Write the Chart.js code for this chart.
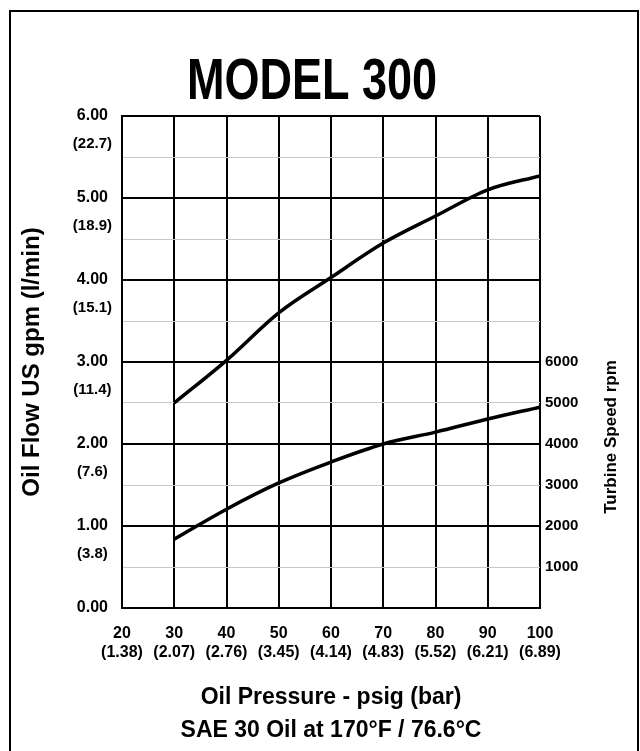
<!DOCTYPE html>
<html lang="en">
<head>
<meta charset="UTF-8">
<title>Model 300</title>
<script src="https://cdn.jsdelivr.net/npm/chart.js"></script>
<style>
  html, body { margin: 0; padding: 0; background: #fff; }
  .wrap { width: 640px; height: 751px; }
</style>
</head>
<body>
<div class="wrap"><canvas id="chart" width="640" height="751"></canvas></div>
<script>
// values
const pressurePsig = [30, 40, 50, 60, 70, 80, 90, 100];
const oilFlowGpm = [2.5, 3.02, 3.6, 4.03, 4.45, 4.78, 5.1, 5.27];
const turbineRpm = [1680, 2410, 3050, 3560, 4000, 4290, 4610, 4900];

// axis labels
const pressureTicks = [20, 30, 40, 50, 60, 70, 80, 90, 100];
const pressureBar = ['1.38', '2.07', '2.76', '3.45', '4.14', '4.83', '5.52', '6.21', '6.89'];
const gpmTicks = [0, 1, 2, 3, 4, 5, 6];
const lpmLabels = ['', '3.8', '7.6', '11.4', '15.1', '18.9', '22.7'];
const rpmTicks = [1000, 2000, 3000, 4000, 5000, 6000];

const LPM_OFFSET = 0.34;
const FONT = "'Liberation Sans', Arial, sans-serif";

Chart.defaults.font.family = FONT;
Chart.defaults.color = '#000';

function isWhole(v) { return Math.abs(v - Math.round(v)) < 1e-6; }
function isHalf(v) { return Math.abs(v - Math.floor(v) - 0.5) < 1e-6; }
function tickVal(ctx) { return ctx && ctx.tick ? ctx.tick.value : 0; }

// outer frame, condensed title, right axis title (reads bottom to top)
const extras = {
  id: 'extras',
  beforeDraw(chart) {
    const ctx = chart.ctx;
    ctx.save();
    ctx.fillStyle = '#fff';
    ctx.fillRect(0, 0, chart.width, chart.height);
    ctx.strokeStyle = '#000';
    ctx.lineWidth = 2;
    ctx.strokeRect(10, 11, 628, 760);
    ctx.restore();
  },
  afterDraw(chart) {
    const ctx = chart.ctx;
    ctx.save();
    ctx.fillStyle = '#000';
    ctx.textAlign = 'center';

    ctx.save();
    ctx.translate(312, 99);
    ctx.scale(0.79, 1);
    ctx.font = 'bold 57px ' + FONT;
    ctx.textBaseline = 'alphabetic';
    ctx.fillText('MODEL 300', 0, 0);
    ctx.restore();

    ctx.translate(611, 437);
    ctx.rotate(-Math.PI / 2);
    ctx.font = 'bold 17px ' + FONT;
    ctx.textBaseline = 'middle';
    ctx.fillText('Turbine Speed rpm', 0, 0);
    ctx.restore();
  }
};

new Chart(document.getElementById('chart'), {
  type: 'line',
  data: {
    datasets: [
      {
        label: 'Oil Flow',
        data: pressurePsig.map((p, i) => ({ x: p, y: oilFlowGpm[i] })),
        yAxisID: 'y',
        borderColor: '#000',
        borderWidth: 3.5,
        pointRadius: 0,
        cubicInterpolationMode: 'monotone'
      },
      {
        label: 'Turbine Speed',
        data: pressurePsig.map((p, i) => ({ x: p, y: turbineRpm[i] })),
        yAxisID: 'y2',
        borderColor: '#000',
        borderWidth: 3.5,
        pointRadius: 0,
        cubicInterpolationMode: 'monotone'
      }
    ]
  },
  options: {
    responsive: false,
    animation: false,
    devicePixelRatio: 1,
    layout: { padding: { top: 116, left: 0, right: 0, bottom: 0 } },
    plugins: {
      legend: { display: false },
      tooltip: { enabled: false },
      title: { display: false }
    },
    scales: {
      x: {
        type: 'linear',
        min: 20,
        max: 100,
        afterBuildTicks: s => { s.ticks = pressureTicks.map(v => ({ value: v })); },
        afterFit: s => { s.height = 143; },
        ticks: {
          autoSkip: false,
          maxRotation: 0,
          padding: 16,
          font: { size: 16, weight: 'bold', lineHeight: 1.2 },
          callback: (v, i) => [String(v), '(' + pressureBar[i] + ')']
        },
        grid: { color: '#000', lineWidth: 2, drawTicks: false },
        border: { display: true, color: '#000', width: 2 },
        title: {
          display: true,
          text: ['Oil Pressure - psig (bar)', 'SAE 30 Oil at 170°F / 76.6°C'],
          font: { size: 23, weight: 'bold', lineHeight: 1.45 },
          padding: { top: 0, bottom: 3.5 }
        }
      },
      y: {
        position: 'left',
        min: 0,
        max: 6,
        afterBuildTicks: s => {
          const t = [];
          gpmTicks.forEach((v, i) => {
            t.push({ value: v });
            if (v < 6) t.push({ value: v + 0.5 });
            if (lpmLabels[i]) t.push({ value: v - LPM_OFFSET });
          });
          t.sort((a, b) => a.value - b.value);
          s.ticks = t;
        },
        afterFit: s => { s.width = 122; },
        ticks: {
          autoSkip: false,
          crossAlign: 'center',
          padding: 10,
          font: ctx => isWhole(tickVal(ctx))
            ? { size: 16, weight: 'bold' }
            : { size: 15, weight: 'bold' },
          callback: v => {
            if (isWhole(v)) return v.toFixed(2);
            const i = gpmTicks.findIndex(g => Math.abs(g - LPM_OFFSET - v) < 1e-6);
            return i >= 0 ? '(' + lpmLabels[i] + ')' : '';
          }
        },
        grid: {
          drawTicks: false,
          color: ctx => {
            const v = tickVal(ctx);
            if (isWhole(v)) return '#000';
            if (isHalf(v)) return '#c8c8c8';
            return 'rgba(0,0,0,0)';
          },
          lineWidth: ctx => isWhole(tickVal(ctx)) ? 2 : 1
        },
        border: { display: true, color: '#000', width: 2 },
        title: {
          display: true,
          text: 'Oil Flow US gpm (l/min)',
          font: { size: 24, weight: 'bold', lineHeight: 1.2 },
          padding: { top: 18, bottom: 0 }
        }
      },
      y2: {
        position: 'right',
        min: 0,
        max: 12000,
        afterBuildTicks: s => { s.ticks = rpmTicks.map(v => ({ value: v })); },
        afterFit: s => { s.width = 100; },
        ticks: {
          autoSkip: false,
          padding: 5,
          font: { size: 15, weight: 'bold' },
          callback: v => String(v)
        },
        grid: { display: false, drawTicks: false },
        border: { display: false }
      }
    }
  },
  plugins: [extras]
});
</script>
</body>
</html>
